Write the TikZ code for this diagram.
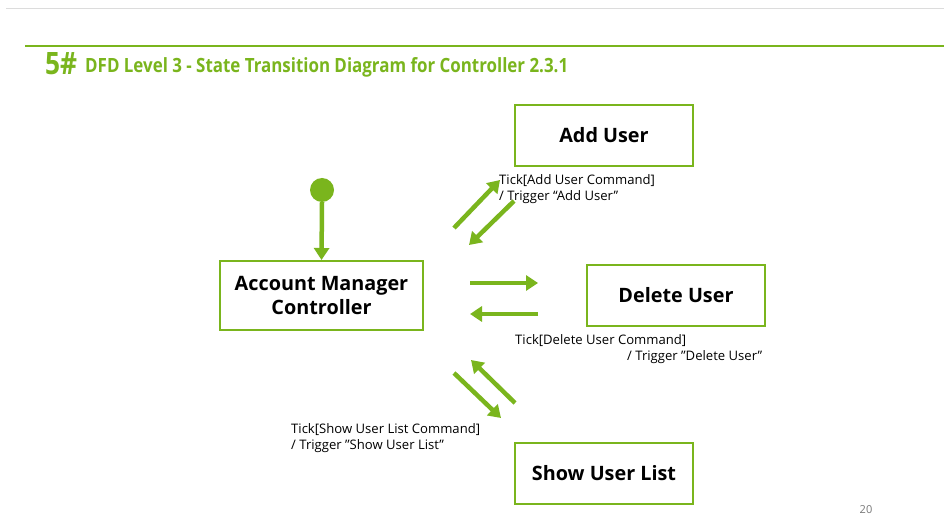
\documentclass[tikz,border=0pt]{standalone}
\usepackage{fontspec}
\setmainfont{Open Sans}[BoldFont={Open Sans Bold}]
\usetikzlibrary{arrows.meta}
\definecolor{grn}{RGB}{122,181,29}
\definecolor{lgray}{RGB}{220,220,220}
\definecolor{numgray}{RGB}{120,120,120}
\newcommand{\sq}{\char"22\relax}
\tikzset{
  statebox/.style={draw=grn, line width=2pt, fill=white, minimum width=178pt, minimum height=61pt, font=\fontsize{19.8}{23}\selectfont\bfseries, align=center, inner sep=0pt},
  flow/.style={draw=grn, line width=4.5pt, -{Triangle[length=12pt,width=15pt]}},
  lbl/.style={font=\fontsize{13.1}{16}\selectfont, inner sep=0pt, anchor=west},
}
\begin{document}
\begin{tikzpicture}[x=1pt,y=-1pt]
\useasboundingbox (0,0) rectangle (944,526);
\fill[white] (0,0) rectangle (944,526);
% header lines
\draw[lgray, line width=1pt] (6,8.5) -- (944,8.5);
\draw[grn, line width=2.2pt] (25,46) -- (944,46);
% title
\node[anchor=base west, inner sep=0pt, text=grn] (num) at (45,75) {\resizebox{32pt}{22pt}{\bfseries 5\#}};
\node[anchor=base west, inner sep=0pt, text=grn] (title) at (85,72.5) {\resizebox{483pt}{15pt}{\bfseries DFD Level 3 - State Transition Diagram for Controller 2.3.1}};
% states
\node[statebox, minimum width=203pt, minimum height=69pt] (amc) at (321.5,295.5) {Account Manager\\[1pt]Controller};
\node[statebox] (add) at (604,135.5) {Add User};
\node[statebox] (del) at (676,295.5) {Delete User};
\node[statebox] (show) at (604,473) {Show User List};
% initial
\node[circle, fill=grn, minimum size=24pt, inner sep=0pt] (init) at (322,190) {};
\draw[flow] (init.south) -- (amc.north);
% add arrows
\coordinate (a1s) at (454,228); \coordinate (a1e) at (500,180);
\coordinate (a2s) at (514,201); \coordinate (a2e) at (469,245);
\draw[flow] (a1s) -- (a1e);
\draw[flow] (a2s) -- (a2e);
% delete arrows
\coordinate (d1s) at (470,283); \coordinate (d1e) at (538,283);
\coordinate (d2s) at (538,314); \coordinate (d2e) at (470,314);
\draw[flow] (d1s) -- (d1e);
\draw[flow] (d2s) -- (d2e);
% show arrows
\coordinate (s1s) at (454,373); \coordinate (s1e) at (501,418);
\coordinate (s2s) at (515,403); \coordinate (s2e) at (471,360);
\draw[flow] (s1s) -- (s1e);
\draw[flow] (s2s) -- (s2e);
% labels
\node[lbl] (la1) at (499,181) {Tick[Add User Command]};
\node[lbl] (la2) at (499,197) {/ Trigger “Add User”};
\node[lbl] (ld1) at (515,341) {Tick[Delete User Command]};
\node[lbl] (ld2) at (627,357) {/ Trigger \sq Delete User\sq};
\node[lbl] (ls1) at (291,430) {Tick[Show User List Command]};
\node[lbl] (ls2) at (291,446) {/ Trigger \sq Show User List\sq};
\node[font=\fontsize{11}{13}\selectfont, text=numgray, inner sep=0pt] (pg) at (866,510) {20};
\end{tikzpicture}
\end{document}
